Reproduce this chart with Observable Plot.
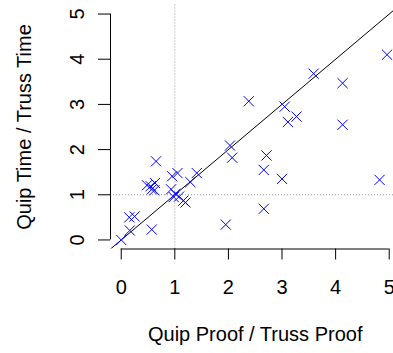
<!DOCTYPE html>
<html>
<head>
<meta charset="utf-8">
<script src="https://cdn.jsdelivr.net/npm/d3@7"></script>
<script src="https://cdn.jsdelivr.net/npm/@observablehq/plot@0.6"></script>
<style>
  html, body { margin: 0; padding: 0; background: #fff; }
</style>
</head>
<body>
<div id="chart"></div>
<script>
// Data: Quip Proof / Truss Proof (x) vs Quip Time / Truss Time (y)
const proofRatio = [0, 0.15, 0.25, 0.16, 0.57, 0.65, 0.48, 0.55, 0.63, 0.57, 0.62,
  0.95, 1.05, 0.93, 1.01, 0.98, 1.08, 1.16, 1.20, 1.29, 1.41,
  2.03, 2.07, 2.38, 2.71, 2.66, 2.66, 1.95, 3.00, 3.05, 3.11, 3.27,
  3.59, 4.13, 4.13, 4.82, 4.96];
const timeRatio = [0, 0.50, 0.52, 0.21, 0.23, 1.74, 1.21, 1.19, 1.26, 1.12, 1.10,
  1.41, 1.48, 1.12, 1.02, 0.95, 0.96, 0.87, 0.83, 1.28, 1.48,
  2.09, 1.82, 3.07, 1.87, 1.55, 0.69, 0.34, 1.35, 2.95, 2.61, 2.73,
  3.68, 3.47, 2.55, 1.33, 4.10];
const xTicks = [0, 1, 2, 3, 4, 5];
const yTicks = [0, 1, 2, 3, 4, 5];
const xTitle = "Quip Proof / Truss Proof";
const yTitle = "Quip Time / Truss Time";
const refValue = [1];
const diagonal = [-0.2, 5.2];

const points = proofRatio.map((x, i) => ({x, y: timeRatio[i]}));
const font = "'Liberation Sans', Arial, Helvetica, sans-serif";
const fs = 20;

const chart = Plot.plot({
  width: 393,
  height: 353,
  marginLeft: 110,
  marginRight: 0,
  marginTop: 4.5,
  marginBottom: 104.5,
  style: {fontFamily: font, fontSize: fs + "px", background: "#fff", color: "#000", overflow: "visible"},
  x: {domain: [-0.2, 5.08], axis: null},
  y: {domain: [-0.2, 5.2], axis: null},
  marks: [
    // reference dotted lines
    Plot.ruleX(refValue, {stroke: "#999", strokeWidth: 1, strokeDasharray: "1,2"}),
    Plot.ruleY(refValue, {stroke: "#999", strokeWidth: 1, strokeDasharray: "1,2"}),
    // y = x line
    Plot.line(diagonal, {x: d => d, y: d => d, stroke: "#000", strokeWidth: 1, clip: true}),
    // points
    Plot.dot(points, {x: "x", y: "y", symbol: "times", r: 4.7, stroke: "#0000ff", strokeWidth: 1}),
    // axis lines
    Plot.ruleY([-0.2], {x1: xTicks[0], x2: xTicks[xTicks.length - 1], stroke: "#000"}),
    Plot.ruleX([-0.2], {y1: yTicks[0], y2: yTicks[yTicks.length - 1], stroke: "#000"}),
    // ticks
    Plot.axisX({ticks: xTicks, tickSize: 11, tickFormat: () => "", label: null, anchor: "bottom", stroke: "#000"}),
    Plot.axisY({ticks: yTicks, tickSize: 12, tickFormat: () => "", label: null, anchor: "left", stroke: "#000"}),
    // tick labels
    Plot.text(xTicks, {x: d => d, frameAnchor: "bottom", dy: 39, lineAnchor: "middle", textAnchor: "middle", text: d => String(d), fontSize: fs, fill: "#000"}),
    Plot.text(yTicks, {y: d => d, frameAnchor: "left", dx: -33, rotate: -90, lineAnchor: "middle", textAnchor: "middle", text: d => String(d), fontSize: fs, fill: "#000"}),
    // axis titles
    Plot.text([xTitle], {x: 2.5, frameAnchor: "bottom", dy: 86, lineAnchor: "middle", textAnchor: "middle", text: d => d, fontSize: fs, fill: "#000"}),
    Plot.text([yTitle], {y: 2.5, frameAnchor: "left", dx: -86, rotate: -90, lineAnchor: "middle", textAnchor: "middle", text: d => d, fontSize: fs, fill: "#000"})
  ]
});
document.getElementById("chart").appendChild(chart);
</script>
</body>
</html>
